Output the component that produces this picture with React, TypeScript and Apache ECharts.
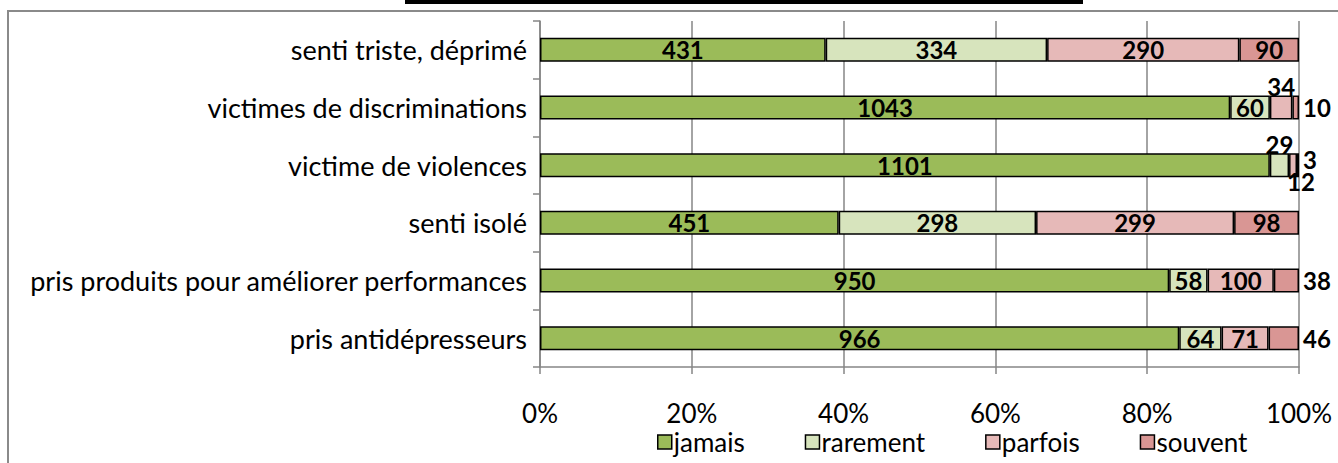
import React, { useEffect, useRef } from "react";
import * as echarts from "echarts";

const categories = [
  "senti triste, déprimé",
  "victimes de discriminations",
  "victime de violences",
  "senti isolé",
  "pris produits pour améliorer performances",
  "pris antidépresseurs",
];
const seriesNames = ["jamais", "rarement", "parfois", "souvent"];
const jamais = [431, 1043, 1101, 451, 950, 966];
const rarement = [334, 60, 29, 298, 58, 64];
const parfois = [290, 34, 12, 299, 100, 71];
const souvent = [90, 10, 3, 98, 38, 46];
const colors = ["#9BBB59", "#D7E4BD", "#E6B9B8", "#D99694"];
const xTicks = [0, 20, 40, 60, 80, 100];

const FONT = "Lato";

// per-point label placement overrides (series index - row index)
const labelOverrides: Record<string, any> = {
  "2-1": { position: "top", distance: -3 },
  "3-1": { position: "right", distance: 4 },
  "1-2": { position: "top", distance: -3 },
  "2-2": { position: "bottom", distance: -8, offset: [8, 0] },
  "3-2": { position: "right", distance: 4, offset: [0, -6] },
  "3-4": { position: "right", distance: 4 },
  "3-5": { position: "right", distance: 4 },
};

export default function App() {
  const ref = useRef<HTMLDivElement>(null);
  useEffect(() => {
    if (!ref.current) return;
    const chart = echarts.init(ref.current, undefined, { renderer: "svg" });
    const all = [jamais, rarement, parfois, souvent];
    const totals = categories.map((_, i) => all.reduce((s, arr) => s + arr[i], 0));
    const series = all.map((arr, si) => ({
      name: seriesNames[si],
      type: "bar",
      stack: "total",
      barWidth: 24,
      itemStyle: { color: colors[si], borderColor: "#000", borderWidth: 1.5 },
      label: {
        show: true,
        position: "inside",
        color: "#000",
        fontFamily: FONT,
        fontWeight: "bold",
        fontSize: 24,
        formatter: (p: any) => String(arr[p.dataIndex]),
      },
      data: arr.map((v, i) => {
        const o = labelOverrides[`${si}-${i}`];
        const item: any = { value: (v / totals[i]) * 100 };
        if (o) item.label = o;
        return item;
      }),
    }));
    chart.setOption({
      animation: false,
      backgroundColor: "#fff",
      textStyle: { fontFamily: FONT },
      grid: { left: 540, right: 39, top: 21, bottom: 96, containLabel: false },
      xAxis: {
        type: "value",
        min: xTicks[0],
        max: xTicks[xTicks.length - 1],
        interval: 20,
        axisLabel: {
          formatter: "{value}%",
          fontSize: 26,
          color: "#000",
          fontFamily: FONT,
          margin: 33,
        },
        axisLine: { show: true, lineStyle: { color: "#868686", width: 1.5 } },
        axisTick: { show: true, length: 7, lineStyle: { color: "#868686", width: 1.5 } },
        splitLine: { show: true, lineStyle: { color: "#868686", width: 1.5 } },
      },
      yAxis: {
        type: "category",
        inverse: true,
        data: categories,
        axisLabel: { fontSize: 27, color: "#000", fontFamily: FONT, margin: 13 },
        axisLine: { show: true, lineStyle: { color: "#868686", width: 1.5 } },
        axisTick: { show: true, length: 7, lineStyle: { color: "#868686", width: 1.5 } },
      },
      legend: {
        data: seriesNames,
        left: 652,
        top: 424,
        itemWidth: 14,
        itemHeight: 14,
        itemGap: 60,
        icon: "rect",
        itemStyle: { borderColor: "#000", borderWidth: 1.5 },
        textStyle: { fontSize: 26, color: "#000", fontFamily: FONT, padding: [0, 0, 0, -3] },
      },
      graphic: [
        {
          type: "rect",
          shape: { x: 8, y: 11, width: 1400, height: 500 },
          style: { fill: "none", stroke: "#8a8a8a", lineWidth: 2 },
          silent: true,
        },
        {
          type: "rect",
          shape: { x: 405, y: -2, width: 678, height: 6 },
          style: { fill: "#000" },
          silent: true,
        },
      ],
      series,
    });
    return () => chart.dispose();
  }, []);
  return (
    <div
      ref={ref}
      style={{ position: "fixed", left: 0, top: 0, width: 1338, height: 463 }}
    />
  );
}
